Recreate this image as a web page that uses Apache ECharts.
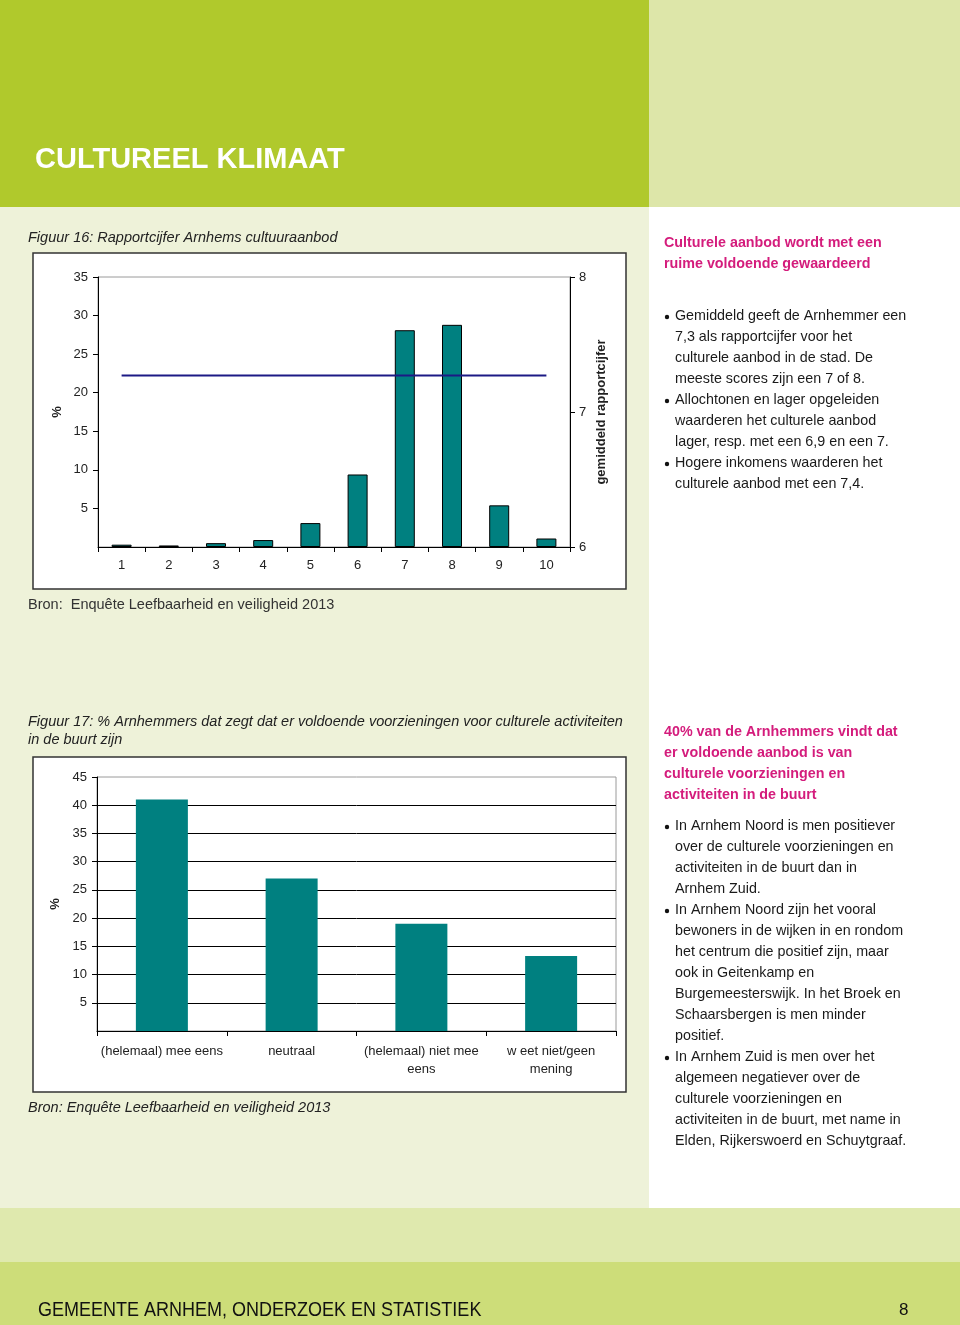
<!DOCTYPE html>
<html><head><meta charset="utf-8">
<script src="https://cdn.jsdelivr.net/npm/echarts@6/dist/echarts.min.js"></script>
<style>html,body{margin:0;padding:0;background:#fff}#c{width:960px;height:1325px}</style>
</head><body><div id="c"></div>
<script>
// ---- data ----
const scoreCats = ['1','2','3','4','5','6','7','8','9','10'];
const scorePct = [0.3, 0.2, 0.5, 0.9, 3.1, 9.4, 28.1, 28.8, 5.4, 1.1];
const avgScore = [7.27, 7.27, 7.27, 7.27, 7.27, 7.27, 7.27, 7.27, 7.27, 7.27];
const buurtCats = ['(helemaal) mee eens', 'neutraal', '(helemaal) niet mee\neens', 'w eet niet/geen\nmening'];
const buurtPct = [41, 27, 19, 13.3];

const pageTitle = 'CULTUREEL KLIMAAT';
const fig16Title = 'Figuur 16: Rapportcijfer Arnhems cultuuraanbod';
const fig16Source = 'Bron:  Enquête Leefbaarheid en veiligheid 2013';
const fig17Title = ['Figuur 17: % Arnhemmers dat zegt dat er voldoende voorzieningen voor culturele activiteiten', 'in de buurt zijn'];
const fig17Source = 'Bron: Enquête Leefbaarheid en veiligheid 2013';
const head1 = ['Culturele aanbod wordt met een', 'ruime voldoende gewaardeerd'];
const bullets1 = [
  ['Gemiddeld geeft de Arnhemmer een', '7,3 als rapportcijfer voor het', 'culturele aanbod in de stad. De', 'meeste scores zijn een 7 of 8.'],
  ['Allochtonen en lager opgeleiden', 'waarderen het culturele aanbod', 'lager, resp. met een 6,9 en een 7.'],
  ['Hogere inkomens waarderen het', 'culturele aanbod met een 7,4.']
];
const head2 = ['40% van de Arnhemmers vindt dat', 'er voldoende aanbod is van', 'culturele voorzieningen en', 'activiteiten in de buurt'];
const bullets2 = [
  ['In Arnhem Noord is men positiever', 'over de culturele voorzieningen en', 'activiteiten in de buurt dan in', 'Arnhem Zuid.'],
  ['In Arnhem Noord zijn het vooral', 'bewoners in de wijken in en rondom', 'het centrum die positief zijn, maar', 'ook in Geitenkamp en', 'Burgemeesterswijk. In het Broek en', 'Schaarsbergen is men minder', 'positief.'],
  ['In Arnhem Zuid is men over het', 'algemeen negatiever over de', 'culturele voorzieningen en', 'activiteiten in de buurt, met name in', 'Elden, Rijkerswoerd en Schuytgraaf.']
];
const footerText = 'GEMEENTE ARNHEM, ONDERZOEK EN STATISTIEK';
const pageNo = '8';

// ---- page graphics ----
const F = 'Liberation Sans, Arial, sans-serif';
const g = [];
function rect(x, y, w, h, fill, z, stroke) {
  g.push({type: 'rect', z: z || -10, silent: true, shape: {x, y, width: w, height: h},
    style: {fill: fill, stroke: stroke || null, lineWidth: stroke ? 1.5 : 0}});
}
function txt(t, x, y, font, fill, extra) {
  g.push(Object.assign({type: 'text', z: 50, silent: true, style: {text: t, x, y, font, fill, align: 'left', verticalAlign: 'middle'}}, extra || {}));
}
rect(0, 0, 649, 207, '#b0c92c');
rect(649, 0, 311, 207, '#dde6a9');
rect(0, 207, 649, 1001, '#eef2d9');
rect(649, 207, 311, 1001, '#ffffff');
rect(0, 1208, 960, 54, '#dfe9ae');
rect(0, 1262, 960, 63, '#cddd79');
rect(33, 253, 593, 336, '#ffffff', -5, '#333333');
rect(33, 757, 593, 335, '#ffffff', -5, '#333333');

txt(pageTitle, 35, 160, 'bold 29px ' + F, '#ffffff');
txt(fig16Title, 28, 238, 'italic 14.5px ' + F, '#222');
txt(fig16Source, 28, 605, '14.5px ' + F, '#333');
txt(fig17Title[0], 28, 722, 'italic 14.5px ' + F, '#222');
txt(fig17Title[1], 28, 740, 'italic 14.5px ' + F, '#222');
txt(fig17Source, 28, 1108, 'italic 14.5px ' + F, '#222');

function block(head, bullets, y0, yb) {
  head.forEach((l, i) => txt(l, 664, y0 + i * 21, 'bold 14.3px ' + F, '#d41c7c'));
  let y = yb;
  bullets.forEach(b => {
    g.push({type: 'circle', z: 50, silent: true, shape: {cx: 667, cy: y + 1, r: 2.2}, style: {fill: '#111'}});
    b.forEach(l => { txt(l, 675, y, '14.3px ' + F, '#1a1a1a'); y += 21; });
  });
}
block(head1, bullets1, 243, 316);
block(head2, bullets2, 732, 826);

txt(footerText, 0, 0, '20px ' + F, '#111', {x: 38, y: 1310, scaleX: 0.9});
txt(pageNo, 899, 1310, '17px ' + F, '#111');

// ---- charts ----
const axLine = {show: true, lineStyle: {color: '#000', width: 1}};
const lbl = {color: '#222', fontSize: 13, fontFamily: F};
const chart = echarts.init(document.getElementById('c'), null, {renderer: 'canvas'});
chart.setOption({
  animation: false,
  graphic: g,
  grid: [
    {left: 98, top: 277, width: 472, height: 270, show: true, borderColor: '#9a9a9a', borderWidth: 1, backgroundColor: 'transparent'},
    {left: 97, top: 777, width: 519, height: 254, show: true, borderColor: '#9a9a9a', borderWidth: 1, backgroundColor: 'transparent'}
  ],
  xAxis: [
    {type: 'category', gridIndex: 0, data: scoreCats, boundaryGap: true, axisLine: axLine,
      axisTick: {show: true, length: 5, lineStyle: {color: '#000'}}, axisLabel: Object.assign({margin: 12}, lbl)},
    {type: 'category', gridIndex: 1, data: buurtCats, boundaryGap: true, axisLine: axLine,
      axisTick: {show: true, length: 5, lineStyle: {color: '#000'}}, axisLabel: Object.assign({margin: 11, interval: 0, lineHeight: 18}, lbl)}
  ],
  yAxis: [
    {type: 'value', gridIndex: 0, min: 0, max: 35, interval: 5, axisLine: axLine,
      axisTick: {show: true, length: 5, lineStyle: {color: '#000'}}, splitLine: {show: false},
      axisLabel: Object.assign({margin: 10, showMinLabel: false}, lbl),
      name: '%', nameLocation: 'middle', nameRotate: 90, nameGap: 34,
      nameTextStyle: {fontSize: 13, fontWeight: 'bold', color: '#222', fontFamily: F}},
    {type: 'value', gridIndex: 0, position: 'right', min: 6, max: 8, interval: 1, axisLine: axLine,
      axisTick: {show: true, length: 5, lineStyle: {color: '#000'}}, splitLine: {show: false},
      axisLabel: Object.assign({margin: 9}, lbl),
      name: 'gemiddeld rapportcijfer', nameLocation: 'middle', nameRotate: 90, nameGap: 25,
      nameTextStyle: {fontSize: 13, fontWeight: 'bold', color: '#222', fontFamily: F}},
    {type: 'value', gridIndex: 1, min: 0, max: 45, interval: 5, axisLine: axLine,
      axisTick: {show: true, length: 5, lineStyle: {color: '#000'}},
      splitLine: {show: true, showMaxLine: false, lineStyle: {color: '#000', width: 1}},
      axisLabel: Object.assign({margin: 10, showMinLabel: false}, lbl),
      name: '%', nameLocation: 'middle', nameRotate: 90, nameGap: 34,
      nameTextStyle: {fontSize: 13, fontWeight: 'bold', color: '#222', fontFamily: F}}
  ],
  series: [
    {type: 'bar', xAxisIndex: 0, yAxisIndex: 0, data: scorePct, barWidth: 20,
      itemStyle: {color: '#008080', borderColor: '#000', borderWidth: 1}},
    {type: 'line', xAxisIndex: 0, yAxisIndex: 1, data: avgScore, symbol: 'none',
      lineStyle: {color: '#1c1a85', width: 2}, z: 5},
    {type: 'bar', xAxisIndex: 1, yAxisIndex: 2, data: buurtPct, barWidth: 52,
      itemStyle: {color: '#008080'}}
  ]
});
</script></body></html>
